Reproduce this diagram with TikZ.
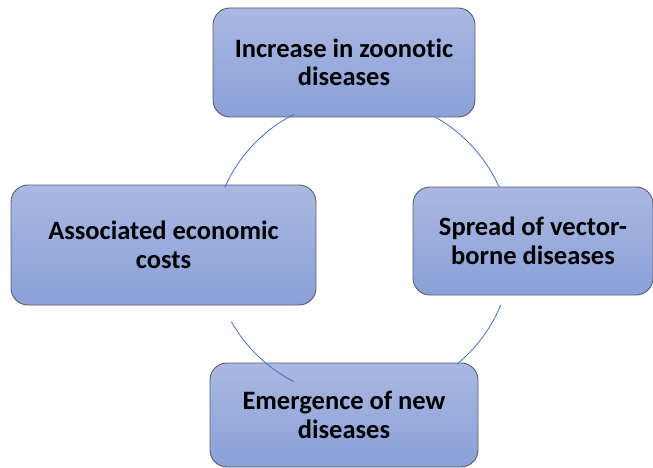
\documentclass[tikz,border=0pt]{standalone}
\usepackage{fontspec}
\setmainfont{Carlito}[Ligatures=NoCommon]
\usetikzlibrary{calc}
\definecolor{boxtop}{RGB}{170,184,226}
\definecolor{boxbot}{RGB}{138,160,216}
\definecolor{boxedge}{RGB}{90,92,104}
\definecolor{ringblue}{RGB}{68,114,196}
\tikzset{
  cyclebox/.style={rectangle, rounded corners=17pt, draw=boxedge, line width=0.9pt,
    top color=boxtop, bottom color=boxbot, align=center,
    font=\bfseries\fontsize{26.5}{28.5}\selectfont, inner sep=0pt},
  ring/.style={draw=ringblue, line width=0.8pt}
}
\begin{document}
\begin{tikzpicture}[x=1pt,y=1pt]
\useasboundingbox (0,0) rectangle (653,-468);
\fill[white] (0,0) rectangle (653,-468);
\node[cyclebox, minimum width=262pt, minimum height=109pt] (top) at (344,-62.5) {Increase in zoonotic\\diseases};
\node[cyclebox, minimum width=305pt, minimum height=120pt] (left) at (163.5,-245) {Associated economic\\costs};
\node[cyclebox, minimum width=240pt, minimum height=108pt] (right) at (533,-241) {Spread of vector-\\borne diseases};
\node[cyclebox, minimum width=268pt, minimum height=104pt] (bottom) at (344,-415) {Emergence of new\\diseases};
\coordinate (ctr) at (362,-248);
\coordinate (a1) at ($(ctr)+(116.9:150)$);
\coordinate (a2) at ($(ctr)+(60.6:150)$);
\coordinate (a3) at ($(ctr)+(-22.4:150)$);
\coordinate (a4) at ($(ctr)+(209.4:150)$);
\draw[ring] (a1) arc[start angle=116.9, end angle=156.2, radius=150];
\draw[ring] (a2) arc[start angle=60.6, end angle=24, radius=150];
\draw[ring] (a3) arc[start angle=-22.4, end angle=-50.8, radius=150];
\draw[ring] (a4) arc[start angle=209.4, end angle=242.9, radius=150];
\end{tikzpicture}
\end{document}
